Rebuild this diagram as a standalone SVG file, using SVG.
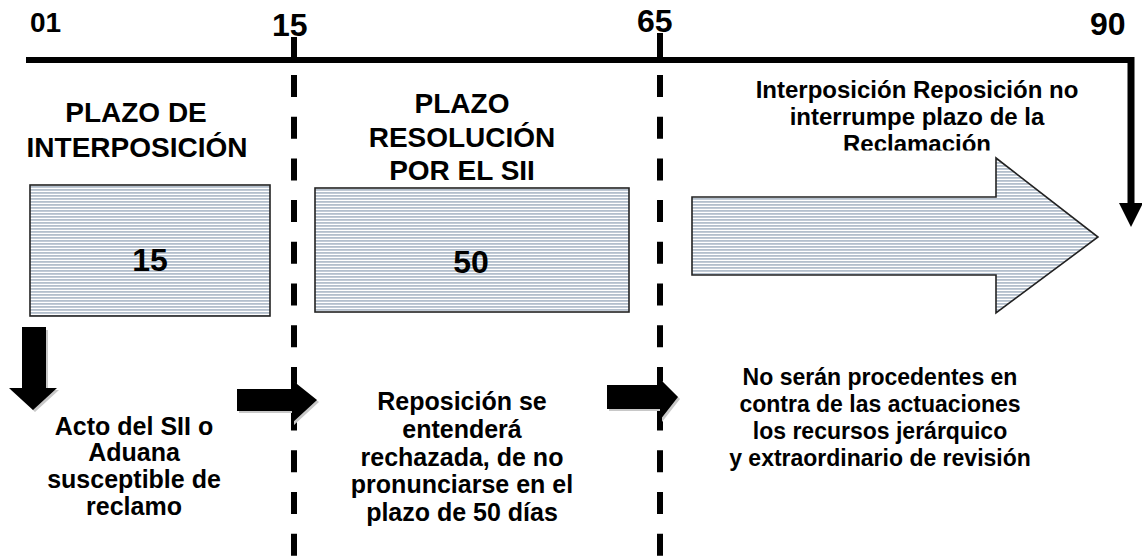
<svg xmlns="http://www.w3.org/2000/svg" width="1142" height="558" viewBox="0 0 1142 558">
<defs>
<pattern id="stripes" patternUnits="userSpaceOnUse" width="8" height="3">
<rect width="8" height="3" fill="#ffffff"/>
<rect y="0" width="8" height="1.8" fill="#b3bfcc"/>
</pattern>
<clipPath id="clipTop"><rect x="700" y="60" width="440" height="90.5"/></clipPath>
<style>
text{font-family:"Liberation Sans",Arial,sans-serif;font-weight:bold;fill:#000}
.num{font-size:32px}
.big{font-size:28px;text-anchor:middle}
.small{font-size:23px;text-anchor:middle}
.mid{font-size:25px;text-anchor:middle}
.box{fill:url(#stripes);stroke:#222;stroke-width:1.6}
.dash{stroke:#000;stroke-width:6;stroke-dasharray:22 19.7;fill:none}
.blk{fill:#000}
.shd{fill:#c8c8c8}
</style>
</defs>
<rect width="1142" height="558" fill="#fff"/>

<g id="timeline">
<text class="num" x="30" y="32" style="font-size:28px">01</text>
<text class="num" x="272" y="36">15</text>
<text class="num" x="637" y="32">65</text>
<text class="num" x="1090" y="35">90</text>
<line x1="26" y1="60" x2="1134" y2="60" stroke="#000" stroke-width="6"/>
<line x1="294" y1="37" x2="294" y2="60" stroke="#000" stroke-width="6"/>
<line x1="660" y1="33" x2="660" y2="60" stroke="#000" stroke-width="6"/>
</g>

<g id="connectors">
<line class="dash" x1="294" y1="75" x2="294" y2="558"/>
<line class="dash" x1="660" y1="75" x2="660" y2="558"/>
<path d="M1131 57 V205" stroke="#000" stroke-width="7" fill="none"/>
<polygon class="blk" points="1119,203 1143,203 1131,227"/>
<polygon class="shd" points="24,330 48,330 48,390 59,390 35,412 11,390 24,390"/>
<polygon class="blk" points="22,327 46,327 46,388 57,388 33,410 9,388 22,388"/>
<polygon class="shd" points="239,391 294,391 294,382 319,402 294,425 294,413 239,413"/>
<polygon class="blk" points="237,389 292,389 292,380 317,400 292,423 292,411 237,411"/>
<polygon class="shd" points="609,387 662,387 662,381 680,399 662,422 662,411 609,411"/>
<polygon class="blk" points="607,385 660,385 660,379 678,397 660,420 660,409 607,409"/>
</g>

<g id="node-interposicion">
<text class="big" x="136" y="122">PLAZO DE</text>
<text class="big" x="137" y="157">INTERPOSICIÓN</text>
<rect class="box" x="30" y="185" width="240" height="131"/>
<text class="big" x="150" y="271" style="font-size:32px">15</text>
</g>

<g id="node-resolucion">
<text class="big" x="462" y="113">PLAZO</text>
<text class="big" x="462" y="147">RESOLUCIÓN</text>
<text class="big" x="462" y="180">POR EL SII</text>
<rect class="box" x="315" y="188" width="314" height="124"/>
<text class="big" x="471" y="273" style="font-size:32px">50</text>
</g>

<g id="node-reclamacion">
<g clip-path="url(#clipTop)">
<text class="small" x="917" y="98" style="font-size:24px">Interposición Reposición no</text>
<text class="small" x="917" y="125" style="font-size:24px">interrumpe plazo de la</text>
<text class="small" x="917" y="152" style="font-size:24px">Reclamación</text>
</g>
<polygon class="box" points="692,197 996,197 996,158 1098,237 996,313 996,275 692,275"/>
</g>

<g id="node-acto">
<text class="mid" x="134" y="435">Acto del SII o</text>
<text class="mid" x="134" y="461">Aduana</text>
<text class="mid" x="134" y="488">susceptible de</text>
<text class="mid" x="134" y="515">reclamo</text>
</g>

<g id="node-rechazada">
<text class="mid" x="462" y="410">Reposición se</text>
<text class="mid" x="462" y="438">entenderá</text>
<text class="mid" x="462" y="466">rechazada, de no</text>
<text class="mid" x="462" y="493">pronunciarse en el</text>
<text class="mid" x="462" y="521">plazo de 50 días</text>
</g>

<g id="node-procedentes">
<text class="small" x="880" y="385">No serán procedentes en</text>
<text class="small" x="880" y="412">contra de las actuaciones</text>
<text class="small" x="880" y="439">los recursos jerárquico</text>
<text class="small" x="880" y="466">y extraordinario de revisión</text>
</g>
</svg>
